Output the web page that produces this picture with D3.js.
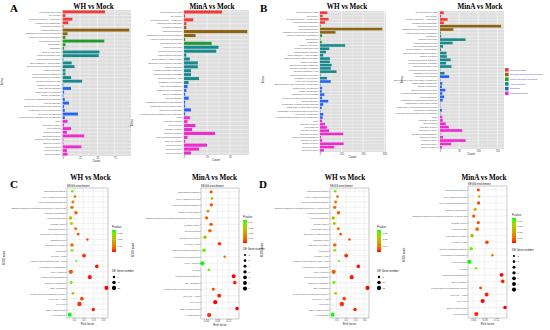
<!DOCTYPE html>
<meta charset="utf-8">
<script src="https://cdn.jsdelivr.net/npm/d3@7"></script>
<style>
body { margin: 0; background: #fff; }
svg { display: block; font-family: "Liberation Sans", Arial, sans-serif; }
.ptitle { font-family: "Liberation Serif", "Times New Roman", serif; font-weight: bold; }
</style>
<body>
<svg id="fig" width="550" height="330"></svg>
<script>

// KEGG level-2 classes, grouped by level-1 category
var groupNames = ["Cellular Processes", "Environmental Information Processing", "Genetic Information Processing",
                  "Human Diseases", "Metabolism", "Organismal Systems"];
var groupColors = ["#f23a3a", "#8c6410", "#229a2c", "#178a8e", "#2462f2", "#ee2ad0"];
var groupTerms = [
  ["Cell growth and death", "Cell motility", "Cellular community - eukaryotes", "Transport and catabolism"],
  ["Membrane transport", "Signal transduction", "Signaling molecules and interaction"],
  ["Folding, sorting and degradation", "Replication and repair", "Transcription", "Translation"],
  ["Cancers: Overview", "Cancers: Specific types", "Cardiovascular diseases", "Drug resistance: Antineoplastic",
   "Endocrine and metabolic diseases", "Immune diseases", "Infectious diseases: Bacterial",
   "Infectious diseases: Parasitic", "Infectious diseases: Viral", "Neurodegenerative diseases", "Substance dependence"],
  ["Amino acid metabolism", "Biosynthesis of other secondary metabolites", "Carbohydrate metabolism",
   "Energy metabolism", "Global and overview maps", "Glycan biosynthesis and metabolism", "Lipid metabolism",
   "Metabolism of cofactors and vitamins", "Metabolism of other amino acids",
   "Metabolism of terpenoids and polyketides", "Nucleotide metabolism", "Xenobiotics biodegradation and metabolism"],
  ["Aging", "Circulatory system", "Development", "Digestive system", "Endocrine system", "Environmental adaptation",
   "Excretory system", "Immune system", "Nervous system", "Sensory system"]
];

// counts per term (same order as groupTerms, null = term absent)
var countsA_WH   = [61,4,14,8, 1,96,7, 4,60,4,2, 53,52,1,13,17,4,4,12,28,null,1,
                    12,null,2,1,null,3,9,2,3,null,22,3, 7,2,12,6,31,1,1,27,6,7];
var countsA_MinA = [33,1,8,2, 2,55,10, 1,24,null,null, 30,28,2,5,12,12,6,6,13,null,4,
                    3,null,2,1,null,null,4,1,1,null,6,1, 5,3,10,7,27,3,1,20,13,6];
var countsB_WH   = [34,12,40,23, 3,290,72, 10,null,2,8, 117,43,28,15,46,46,54,50,77,3,32,
                    50,2,10,8,20,10,38,15,8,2,15,12, 10,23,32,42,108,5,10,110,66,18];
var countsB_MinA = [10,3,20,10, null,160,35, 2,null,null,3, 67,33,8,3,17,18,28,16,30,1,12,
                    24,1,6,5,14,6,11,7,1,1,5,1, 6,7,15,23,58,1,8,67,29,5];
var ticksA_WH = [0, 25, 50, 75], ticksA_MinA = [0, 20, 40];
var ticksB_WH = [0, 100, 200, 300], ticksB_MinA = [0, 50, 100, 150];

// KEGG enrichment (C, D)
var pathWH = ["p53 signaling pathway", "Type II diabetes mellitus", "TGF-beta signaling pathway",
  "Signaling pathways regulating pluripotency of stem cells", "Pyrimidine metabolism", "Purine metabolism",
  "Prostate cancer", "Pancreatic cancer", "Nucleotide excision repair", "Mismatch repair", "MicroRNAs in cancer",
  "Melanoma", "Meiosis - yeast", "Maturity onset diabetes of the young", "Homologous recombination",
  "HTLV-I infection", "Fanconi anemia pathway", "Endocrine resistance", "DNA replication",
  "Central carbon metabolism in cancer", "Cell cycle - yeast", "Cell cycle", "Base excision repair", "Axon guidance"];
var richWH  = [0.082,0.11,0.089,0.079,0.121,0.064,0.075,0.118,0.143,0.239,0.079,0.079,
               0.204,0.125,0.336,0.068,0.264,0.071,0.436,0.089,0.182,0.157,0.3,0.057];
var genesWH = [5,6,7,9,10,10,7,7,6,5,10,6,12,3,11,15,14,7,14,6,11,16,10,13];
var pvalWH  = [0.032,0.008,0.01,0.008,0.006,0.02,0.024,0.008,0.005,0.004,0.007,0.028,
               0.002,0.033,0.001,0.005,0.001,0.032,0.0005,0.022,0.003,0.002,0.001,0.035];
var pathMinA = ["p53 signaling pathway", "Type II diabetes mellitus", "TGF-beta signaling pathway",
  "Small cell lung cancer", "Signaling pathways regulating pluripotency of stem cells", "Prostate cancer",
  "Oocyte meiosis", "MicroRNAs in cancer", "Meiosis - yeast", "Jak-STAT signaling pathway",
  "Homologous recombination", "HTLV-I infection", "Glioma", "Fanconi anemia pathway", "DNA replication",
  "Central carbon metabolism in cancer", "Cell cycle - yeast", "Cell cycle", "Base excision repair", "Axon guidance"];
var richMinA  = [0.058,0.061,0.059,0.047,0.042,0.058,0.054,0.036,0.088,0.033,
                 0.107,0.027,0.05,0.139,0.143,0.066,0.087,0.073,0.151,0.051];
var genesMinA = [4,3,5,4,5,5,6,6,6,6,3,8,3,7,6,4,7,8,6,8];
var pvalMinA  = [0.005,0.025,0.006,0.022,0.008,0.006,0.01,0.028,0.004,0.04,
                 0.012,0.045,0.04,0.001,0.002,0.006,0.002,0.001,0.001,0.003];
var richTicksWH = [0.1, 0.2, 0.3, 0.4], richTicksMinA = [0.04, 0.08, 0.12];
var pTicksWH = [0.01, 0.02, 0.03], pTicksMinA = [0.01, 0.02, 0.03, 0.04];
var sizeKeysWH = [5, 10, 15], sizeKeysMinA = [2, 3, 4, 5, 6, 7, 8];

var svg = d3.select("#fig");
var allTerms = [], termGroup = [];
groupTerms.forEach(function(ts, gi) {
  ts.forEach(function(t) { allTerms.push(t); termGroup.push(gi); });
});

function styleAxis(ax, fs) {
  ax.attr("font-size", fs).attr("font-family", null);
  ax.select(".domain").remove();
  ax.selectAll("line").attr("stroke", "#444").attr("stroke-width", 0.3);
  ax.selectAll("text").attr("fill", "#4d4d4d");
}

function barChart(o) {
  var rows = allTerms.map(function(t, i) { return {term: t, n: o.counts[i], grp: termGroup[i]}; })
                     .filter(function(d) { return d.n != null; });
  var x = d3.scaleLinear().domain(o.xDomain).range([o.x0, o.x1]);
  var y = d3.scaleBand().domain(rows.map(function(d) { return d.term; }))
            .range([o.y0, o.y1]).paddingInner(0.22).paddingOuter(0.12);
  var g = svg.append("g");

  g.append("rect").attr("x", o.x0).attr("y", o.y0)
    .attr("width", o.x1 - o.x0).attr("height", o.y1 - o.y0).attr("fill", "#dedede");
  var step = o.ticks[1] - o.ticks[0];
  var minor = d3.range(o.ticks[0] - step / 2, o.xDomain[1], step).filter(function(v) { return v > o.xDomain[0]; });
  g.selectAll(".minor").data(minor).enter().append("line")
    .attr("x1", x).attr("x2", x).attr("y1", o.y0).attr("y2", o.y1)
    .attr("stroke", "#f2f2f2").attr("stroke-width", 0.25);
  g.selectAll(".major").data(o.ticks).enter().append("line")
    .attr("x1", x).attr("x2", x).attr("y1", o.y0).attr("y2", o.y1)
    .attr("stroke", "#fff").attr("stroke-width", 0.5);
  g.selectAll(".hgrid").data(rows).enter().append("line")
    .attr("x1", o.x0).attr("x2", o.x1)
    .attr("y1", function(d) { return y(d.term) + y.bandwidth() / 2; })
    .attr("y2", function(d) { return y(d.term) + y.bandwidth() / 2; })
    .attr("stroke", "#fff").attr("stroke-width", 0.4);

  g.selectAll(".bar").data(rows).enter().append("rect")
    .attr("x", x(0)).attr("y", function(d) { return y(d.term); })
    .attr("width", function(d) { return x(d.n) - x(0); })
    .attr("height", y.bandwidth())
    .attr("fill", function(d) { return groupColors[d.grp]; });

  var ax = g.append("g").attr("transform", "translate(0," + o.y1 + ")")
    .call(d3.axisBottom(x).tickValues(o.ticks).tickSize(0.8).tickPadding(0.5));
  styleAxis(ax, 2.6);
  var ay = g.append("g").attr("transform", "translate(" + o.x0 + ",0)")
    .call(d3.axisLeft(y).tickSize(0.8).tickPadding(0.5));
  styleAxis(ay, 2.2);

  g.append("text").attr("x", (o.x0 + o.x1) / 2).attr("y", o.y1 + 6.3)
    .attr("text-anchor", "middle").attr("font-size", 2.8).attr("fill", "#222").text("Count");
  g.append("text").attr("transform", "translate(" + o.termsX + "," + o.termsY + ") rotate(-90)")
    .attr("text-anchor", "middle").attr("font-size", 2.8).attr("fill", "#222").text("Terms");
  g.append("text").attr("class", "ptitle").attr("x", o.titleX).attr("y", 9)
    .attr("text-anchor", "middle").attr("font-size", 7.2).text(o.title);
}

function dotChart(o) {
  var x = d3.scaleLinear().domain(o.xDomain).range([o.x0, o.x1]);
  var y = d3.scalePoint().domain(o.paths).range([o.y0, o.y1]).padding(0.6);
  var r = d3.scaleSqrt().domain([0, o.sizeMax]).range([0, o.rMax]);
  var col = d3.scaleLinear().domain(d3.extent(o.pvals)).range(["#ff0000", "#00ff00"])
              .interpolate(d3.interpolateLab);
  var pts = o.paths.map(function(p, i) { return {path: p, rich: o.rich[i], n: o.genes[i], p: o.pvals[i]}; });
  var g = svg.append("g");

  g.append("rect").attr("x", o.x0).attr("y", o.y0)
    .attr("width", o.x1 - o.x0).attr("height", o.y1 - o.y0).attr("fill", "#fff");
  var step = o.ticks[1] - o.ticks[0];
  var minor = d3.range(o.ticks[0] - step / 2, o.xDomain[1], step).filter(function(v) { return v > o.xDomain[0]; });
  g.selectAll(".minor").data(minor).enter().append("line")
    .attr("x1", x).attr("x2", x).attr("y1", o.y0).attr("y2", o.y1)
    .attr("stroke", "#f0f0f0").attr("stroke-width", 0.25);
  g.selectAll(".major").data(o.ticks).enter().append("line")
    .attr("x1", x).attr("x2", x).attr("y1", o.y0).attr("y2", o.y1)
    .attr("stroke", "#e3e3e3").attr("stroke-width", 0.45);
  g.selectAll(".hgrid").data(o.paths).enter().append("line")
    .attr("x1", o.x0).attr("x2", o.x1).attr("y1", y).attr("y2", y)
    .attr("stroke", "#e3e3e3").attr("stroke-width", 0.45);
  g.append("rect").attr("x", o.x0).attr("y", o.y0)
    .attr("width", o.x1 - o.x0).attr("height", o.y1 - o.y0)
    .attr("fill", "none").attr("stroke", "#8c8c8c").attr("stroke-width", 0.45);

  g.selectAll(".pt").data(pts).enter().append("circle")
    .attr("cx", function(d) { return x(d.rich); })
    .attr("cy", function(d) { return y(d.path); })
    .attr("r", function(d) { return r(d.n); })
    .attr("fill", function(d) { return col(d.p); });

  var ax = g.append("g").attr("transform", "translate(0," + o.y1 + ")")
    .call(d3.axisBottom(x).tickValues(o.ticks).tickSize(0.8).tickPadding(0.5).tickFormat(d3.format(".2~f")));
  styleAxis(ax, 2.6);
  var ay = g.append("g").attr("transform", "translate(" + o.x0 + ",0)")
    .call(d3.axisLeft(y).tickSize(0.8).tickPadding(0.5));
  styleAxis(ay, 2.2);

  g.append("text").attr("x", (o.x0 + o.x1) / 2).attr("y", o.y1 + 6.5)
    .attr("text-anchor", "middle").attr("font-size", 2.8).attr("fill", "#222").text("Rich factor");
  g.append("text").attr("x", o.x0).attr("y", o.y0 - 1.5)
    .attr("font-size", 2.8).attr("fill", "#222").text("KEGG enrichment");
  g.append("text").attr("transform", "translate(" + o.nameX + "," + o.nameY + ") rotate(-90)")
    .attr("text-anchor", "middle").attr("font-size", 2.6).attr("fill", "#222").text("KEGG name");
  g.append("text").attr("class", "ptitle").attr("x", o.titleX).attr("y", 179.5)
    .attr("text-anchor", "middle").attr("font-size", 7.2).text(o.title);

  // Pvalue colour bar
  var gid = "grad" + o.id;
  var grad = svg.append("defs").append("linearGradient").attr("id", gid)
    .attr("x1", 0).attr("y1", 1).attr("x2", 0).attr("y2", 0);
  d3.range(0, 1.001, 0.1).forEach(function(t) {
    var v = col.domain()[0] + t * (col.domain()[1] - col.domain()[0]);
    grad.append("stop").attr("offset", t).attr("stop-color", col(v));
  });
  var ly = d3.scaleLinear().domain(col.domain()).range([o.gy1, o.gy0]);
  g.append("text").attr("x", o.lx).attr("y", o.gy0 - 1.6).attr("font-size", 3).attr("fill", "#222").text("Pvalue");
  g.append("rect").attr("x", o.lx).attr("y", o.gy0).attr("width", 4).attr("height", o.gy1 - o.gy0)
    .attr("fill", "url(#" + gid + ")");
  g.selectAll(".ptick").data(o.pTicks).enter().append("text")
    .attr("x", o.lx + 5.5).attr("y", function(d) { return ly(d) + 0.8; })
    .attr("font-size", 2.4).attr("fill", "#333").text(d3.format(".2f"));
  g.selectAll(".pmark").data(o.pTicks).enter().append("line")
    .attr("x1", o.lx).attr("x2", o.lx + 0.8).attr("y1", ly).attr("y2", ly)
    .attr("stroke", "#fff").attr("stroke-width", 0.3);

  // DE gene number key
  g.append("text").attr("x", o.lx).attr("y", o.deY).attr("font-size", 2.8).attr("fill", "#222").text("DE Gene number");
  var keys = g.selectAll(".key").data(o.sizeKeys).enter().append("g")
    .attr("transform", function(d, i) { return "translate(" + (o.lx + 2) + "," + (o.deY + 5 + i * o.keyStep) + ")"; });
  keys.append("circle").attr("r", function(d) { return r(d); }).attr("fill", "#000");
  keys.append("text").attr("x", 3.5).attr("y", 0.8).attr("font-size", 2.4).attr("fill", "#333")
    .text(function(d) { return d; });
}

// panel letters
[["A", 10, 12], ["B", 260, 12], ["C", 10, 188], ["D", 259, 188]].forEach(function(l) {
  svg.append("text").attr("class", "ptitle").attr("x", l[1]).attr("y", l[2])
    .attr("font-size", 11).text(l[0]);
});

barChart({counts: countsA_WH, ticks: ticksA_WH, xDomain: [-1.7, 98.5], x0: 61.5, x1: 131, y0: 10, y1: 156,
          title: "WH vs Mock", titleX: 93.5, termsX: 3, termsY: 82});
barChart({counts: countsA_MinA, ticks: ticksA_MinA, xDomain: [-0.9, 56.5], x0: 183, x1: 249, y0: 10, y1: 155,
          title: "MinA vs Mock", titleX: 212, termsX: 132.5, termsY: 123});
barChart({counts: countsB_WH, ticks: ticksB_WH, xDomain: [-4.7, 307], x0: 319, x1: 386, y0: 11, y1: 152,
          title: "WH vs Mock", titleX: 347, termsX: 264, termsY: 80});
barChart({counts: countsB_MinA, ticks: ticksB_MinA, xDomain: [-5.2, 167.5], x0: 438, x1: 504, y0: 11, y1: 149,
          title: "MinA vs Mock", titleX: 480, termsX: 403, termsY: 80});

// category legend for B
var leg = svg.append("g").selectAll("g").data(groupNames).enter().append("g")
  .attr("transform", function(d, i) { return "translate(505," + (68 + i * 4.7) + ")"; });
leg.append("rect").attr("width", 3.6).attr("height", 3.6)
  .attr("fill", function(d, i) { return groupColors[i]; });
leg.append("text").attr("x", 5).attr("y", 2.6).attr("font-size", 1.95).attr("fill", "#3b3bd6")
  .text(function(d) { return d; });

dotChart({id: "cwh", paths: pathWH, rich: richWH, genes: genesWH, pvals: pvalWH, ticks: richTicksWH,
          xDomain: [0.028, 0.452], x0: 67, x1: 108, y0: 188, y1: 318, sizeMax: 16, rMax: 2.2,
          title: "WH vs Mock", titleX: 90.5, nameX: 5, nameY: 258,
          lx: 112, gy0: 230, gy1: 252, pTicks: pTicksWH, deY: 272, sizeKeys: sizeKeysWH, keyStep: 5.5});
dotChart({id: "cmina", paths: pathMinA, rich: richMinA, genes: genesMinA, pvals: pvalMinA, ticks: richTicksMinA,
          xDomain: [0.022, 0.158], x0: 201, x1: 239, y0: 188, y1: 319, sizeMax: 8, rMax: 2.1,
          title: "MinA vs Mock", titleX: 214.5, nameX: 134, nameY: 250,
          lx: 243, gy0: 220, gy1: 243, pTicks: pTicksMinA, deY: 250, sizeKeys: sizeKeysMinA, keyStep: 5.6});
dotChart({id: "dwh", paths: pathWH, rich: richWH, genes: genesWH, pvals: pvalWH, ticks: richTicksWH,
          xDomain: [0.028, 0.452], x0: 330, x1: 369, y0: 188, y1: 318, sizeMax: 16, rMax: 2.2,
          title: "WH vs Mock", titleX: 345, nameX: 263, nameY: 250,
          lx: 377, gy0: 230, gy1: 252, pTicks: pTicksWH, deY: 272, sizeKeys: sizeKeysWH, keyStep: 5.5});
dotChart({id: "dmina", paths: pathMinA, rich: richMinA, genes: genesMinA, pvals: pvalMinA, ticks: richTicksMinA,
          xDomain: [0.022, 0.158], x0: 468, x1: 507, y0: 186, y1: 318, sizeMax: 8, rMax: 2.1,
          title: "MinA vs Mock", titleX: 484, nameX: 405, nameY: 255,
          lx: 512, gy0: 218, gy1: 243, pTicks: pTicksMinA, deY: 251, sizeKeys: sizeKeysMinA, keyStep: 5.6});

</script>
</body>
</html>
